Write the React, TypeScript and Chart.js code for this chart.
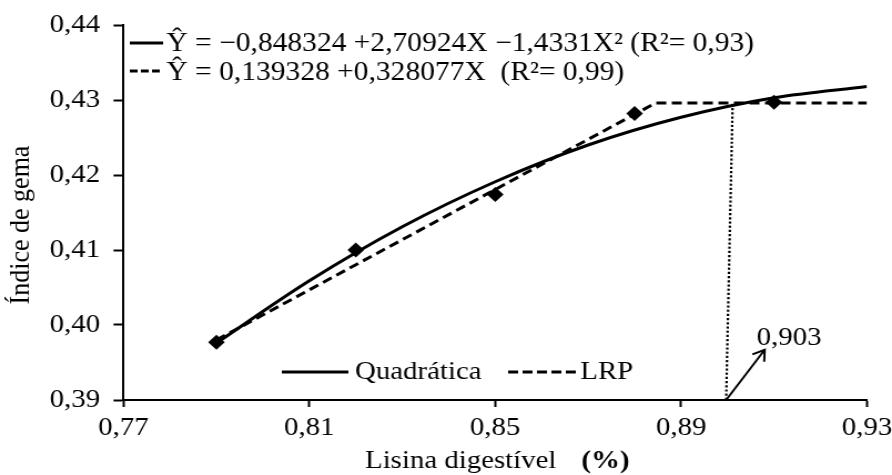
import React, { useEffect, useRef } from 'react';
import { Chart, registerables } from 'chart.js';

Chart.register(...registerables);

// ---- data ----
const xTickValues = [0.77, 0.81, 0.85, 0.89, 0.93];
const xTickLabels = ['0,77', '0,81', '0,85', '0,89', '0,93'];
const yTickValues = [0.39, 0.4, 0.41, 0.42, 0.43, 0.44];
const yTickLabels = ['0,39', '0,40', '0,41', '0,42', '0,43', '0,44'];

const obsX = [0.79, 0.82, 0.85, 0.88, 0.91];
const obsY = [0.3977, 0.41, 0.4174, 0.4282, 0.4297];

const quadX = [0.79, 0.81, 0.83, 0.85, 0.87, 0.89, 0.91, 0.93];
const quadY = [0.3976, 0.4059, 0.4131, 0.4191, 0.424, 0.4277, 0.4303, 0.4318];

const lrpX = [0.79, 0.8845, 0.93];
const lrpY = [0.398, 0.4296, 0.4296];

const breakX = [0.8997, 0.9011];
const breakY = [0.39, 0.4296];
const arrowX = [0.8997, 0.908];
const arrowY = [0.39, 0.3967];
const breakLabel = '0,903';

const eqQuad = 'Ŷ = −0,848324 +2,70924X −1,4331X² (R²= 0,93)';
const eqLrp = 'Ŷ = 0,139328 +0,328077X  (R²= 0,99)';
const legQuad = 'Quadrática';
const legLrp = 'LRP';
const xTitle = 'Lisina digestível';
const xUnit = '(%)';
const yTitle = 'Índice de gema';

// ---- style ----
const W = 804;
const H = 475;
const FONT = '"Liberation Serif", "Times New Roman", serif';

const annotPlugin = {
  id: 'annot',
  afterDraw(chart: any) {
    const { ctx, scales } = chart;
    const x = scales.x;
    const y = scales.y;
    ctx.save();
    ctx.strokeStyle = '#000';
    ctx.fillStyle = '#000';

    // dotted vertical
    ctx.lineWidth = 2.2;
    ctx.setLineDash([2.2, 2]);
    ctx.beginPath();
    ctx.moveTo(x.getPixelForValue(breakX[0]), y.getPixelForValue(breakY[0]));
    ctx.lineTo(x.getPixelForValue(breakX[1]), y.getPixelForValue(breakY[1]));
    ctx.stroke();

    // arrow
    ctx.setLineDash([]);
    ctx.lineWidth = 2;
    const ax0 = x.getPixelForValue(arrowX[0]);
    const ay0 = y.getPixelForValue(arrowY[0]);
    const ax1 = x.getPixelForValue(arrowX[1]);
    const ay1 = y.getPixelForValue(arrowY[1]);
    ctx.beginPath();
    ctx.moveTo(ax0, ay0);
    ctx.lineTo(ax1, ay1);
    const ang = Math.atan2(ay1 - ay0, ax1 - ax0);
    const hl = 12;
    ctx.moveTo(ax1 + hl * Math.cos(ang + Math.PI * 0.82), ay1 + hl * Math.sin(ang + Math.PI * 0.82));
    ctx.lineTo(ax1, ay1);
    ctx.lineTo(ax1 + hl * Math.cos(ang - Math.PI * 0.82), ay1 + hl * Math.sin(ang - Math.PI * 0.82));
    ctx.stroke();

    ctx.font = `26px ${FONT}`;
    ctx.textBaseline = 'alphabetic';
    ctx.textAlign = 'left';
    ctx.fillText(breakLabel, 682, 345);

    // equation legend
    ctx.lineWidth = 3;
    ctx.beginPath();
    ctx.moveTo(117, 43);
    ctx.lineTo(147, 43);
    ctx.stroke();
    ctx.setLineDash([7, 3]);
    ctx.beginPath();
    ctx.moveTo(117, 71);
    ctx.lineTo(147, 71);
    ctx.stroke();
    ctx.setLineDash([]);
    ctx.font = `26.6px ${FONT}`;
    ctx.fillText(eqQuad, 150, 51);
    ctx.fillText(eqLrp, 150, 80);
    ctx.font = `26px ${FONT}`;

    // bottom legend
    ctx.beginPath();
    ctx.moveTo(254, 372);
    ctx.lineTo(314, 372);
    ctx.stroke();
    ctx.setLineDash([9, 4]);
    ctx.beginPath();
    ctx.moveTo(458, 372);
    ctx.lineTo(520, 372);
    ctx.stroke();
    ctx.setLineDash([]);
    ctx.fillText(legQuad, 320, 379);
    ctx.fillText(legLrp, 523, 379);

    // axis titles
    ctx.fillText(xTitle, 329, 468);
    ctx.font = `bold 26px ${FONT}`;
    ctx.fillText(xUnit, 524, 468);

    ctx.font = `26px ${FONT}`;
    ctx.translate(26, 225);
    ctx.rotate(-Math.PI / 2);
    ctx.textAlign = 'center';
    ctx.fillText(yTitle, 0, 0);
    ctx.restore();
  },
};

export default function App() {
  const ref = useRef<HTMLCanvasElement | null>(null);

  useEffect(() => {
    const canvas = ref.current;
    if (!canvas) return;
    const pts = (xs: number[], ys: number[]) => xs.map((v, i) => ({ x: v, y: ys[i] }));
    const chart = new Chart(canvas, {
      type: 'scatter',
      data: {
        datasets: [
          {
            label: 'obs',
            data: pts(obsX, obsY),
            showLine: false,
            pointStyle: 'rectRot',
            pointRadius: 7.5,
            backgroundColor: '#000',
            borderColor: '#000',
            borderWidth: 0,
          },
          {
            label: 'LRP',
            data: pts(lrpX, lrpY),
            showLine: true,
            borderColor: '#000',
            borderWidth: 3,
            borderDash: [9, 5],
            pointRadius: 0,
            tension: 0,
            fill: false,
          },
          {
            label: 'Quadrática',
            data: pts(quadX, quadY),
            showLine: true,
            borderColor: '#000',
            borderWidth: 3,
            pointRadius: 0,
            cubicInterpolationMode: 'monotone',
            fill: false,
          },
        ],
      },
      options: {
        responsive: false,
        animation: false,
        devicePixelRatio: 1,
        layout: { padding: { left: 0, right: 22.6, top: 25, bottom: 0 } },
        plugins: { legend: { display: false }, tooltip: { enabled: false } },
        scales: {
          x: {
            type: 'linear',
            min: 0.77,
            max: 0.93,
            afterBuildTicks: (s: any) => {
              s.ticks = xTickValues.map((v) => ({ value: v }));
            },
            ticks: {
              callback: (_v: any, i: number) => xTickLabels[i],
              font: { family: FONT, size: 26 },
              color: '#000',
              padding: 6,
              maxRotation: 0,
              autoSkip: false,
            },
            grid: { drawOnChartArea: false, drawTicks: true, tickLength: 7, tickColor: '#000', tickWidth: 2 },
            border: { color: '#000', width: 2 },
            afterFit: (s: any) => {
              s.height = 75;
              s.paddingLeft = 0;
              s.paddingRight = 0;
            },
          },
          y: {
            type: 'linear',
            min: 0.39,
            max: 0.44,
            afterBuildTicks: (s: any) => {
              s.ticks = yTickValues.map((v) => ({ value: v }));
            },
            ticks: {
              callback: (_v: any, i: number) => yTickLabels[i],
              font: { family: FONT, size: 26 },
              color: '#000',
              padding: 12,
              autoSkip: false,
            },
            grid: { drawOnChartArea: false, drawTicks: true, tickLength: 9, tickColor: '#000', tickWidth: 2 },
            border: { color: '#000', width: 2 },
            afterFit: (s: any) => {
              s.width = 111.3;
              s.paddingTop = 0;
              s.paddingBottom = 0;
            },
          },
        },
      },
      plugins: [annotPlugin],
    } as any);
    return () => chart.destroy();
  }, []);

  return (
    <div style={{ position: 'fixed', left: 0, top: 0, width: 892, height: 475, background: '#fff' }}>
      <canvas ref={ref} width={W} height={H} style={{ width: '892px', height: '475px', display: 'block' }} />
    </div>
  );
}
